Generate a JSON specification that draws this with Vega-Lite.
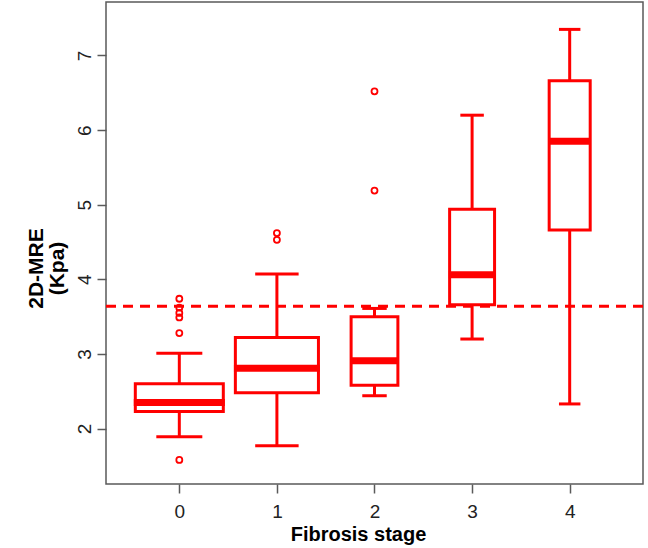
{
  "$schema": "https://vega.github.io/schema/vega-lite/v6.json",
  "autosize": {"type": "none"},
  "padding": {"left": 106, "top": 2, "right": 5, "bottom": 64},
  "width": 537,
  "height": 482,
  "background": "white",
  "config": {
    "view": {"stroke": "#5a5a5a", "strokeWidth": 1.5},
    "font": "Liberation Sans"
  },
  "datasets": {
    "boxes": [
      {"stage": 0, "n": 46, "lower": 1.89, "q1": 2.23, "median": 2.35, "q3": 2.6, "upper": 3.01},
      {"stage": 1, "n": 41, "lower": 1.77, "q1": 2.48, "median": 2.81, "q3": 3.22, "upper": 4.07},
      {"stage": 2, "n": 13, "lower": 2.44, "q1": 2.58, "median": 2.91, "q3": 3.5, "upper": 3.61},
      {"stage": 3, "n": 12, "lower": 3.2, "q1": 3.66, "median": 4.06, "q3": 4.94, "upper": 6.2},
      {"stage": 4, "n": 10, "lower": 2.33, "q1": 4.66, "median": 5.85, "q3": 6.66, "upper": 7.35}
    ],
    "outliers": [
      {"stage": 0, "value": 3.74},
      {"stage": 0, "value": 3.62},
      {"stage": 0, "value": 3.55},
      {"stage": 0, "value": 3.49},
      {"stage": 0, "value": 3.28},
      {"stage": 0, "value": 1.58},
      {"stage": 1, "value": 4.62},
      {"stage": 1, "value": 4.53},
      {"stage": 2, "value": 6.52},
      {"stage": 2, "value": 5.19}
    ],
    "cutoff": [{"value": 3.64}]
  },
  "layer": [
    {
      "data": {"name": "boxes"},
      "mark": {"type": "rule", "color": "#ff0000", "strokeWidth": 3},
      "encoding": {
        "x": {
          "field": "stage", "type": "quantitative",
          "scale": {"domain": [-0.7, 4.7], "nice": false, "zero": false},
          "axis": {
            "values": [0, 1, 2, 3, 4], "format": "d", "grid": false, "domain": false,
            "tickColor": "#5a5a5a", "tickWidth": 1.5, "tickSize": 9,
            "labelFontSize": 19, "labelColor": "#222222", "labelPadding": 9,
            "labelFont": "Liberation Sans",
            "title": "Fibrosis stage", "titleFont": "Liberation Sans", "titleFontSize": 20,
            "titleFontWeight": "bold", "titleColor": "#000000",
            "titleX": 252, "titleY": 56, "titleAlign": "center", "titleBaseline": "alphabetic", "titleAnchor": "middle"
          }
        },
        "y": {
          "field": "lower", "type": "quantitative",
          "scale": {"domain": [1.257, 7.717], "nice": false, "zero": false},
          "axis": {
            "values": [2, 3, 4, 5, 6, 7], "format": "d", "grid": false, "domain": false,
            "tickColor": "#5a5a5a", "tickWidth": 1.5, "tickSize": 9,
            "labelFontSize": 19, "labelColor": "#222222", "labelAngle": -90,
            "labelAlign": "center", "labelBaseline": "bottom", "labelPadding": 3,
            "labelFont": "Liberation Sans",
            "title": ["2D-MRE", "(Kpa)"], "titleFont": "Liberation Sans", "titleFontSize": 21,
            "titleFontWeight": "bold", "titleColor": "#000000", "titleLineHeight": 21,
            "titleAngle": -90, "titleX": -81, "titleY": 266, "titleAlign": "center", "titleBaseline": "top"
          }
        },
        "y2": {"field": "upper"}
      }
    },
    {
      "data": {"name": "boxes"},
      "mark": {"type": "bar", "fill": "#ffffff", "stroke": "#ff0000", "strokeWidth": 3},
      "encoding": {
        "x": {"field": "stage", "type": "quantitative"},
        "y": {"field": "q1", "type": "quantitative"},
        "y2": {"field": "q3"},
        "size": {"field": "n", "type": "quantitative", "scale": {"type": "sqrt", "domain": [0, 46], "range": [0, 88]}, "legend": null}
      }
    },
    {
      "data": {"name": "boxes"},
      "mark": {"type": "tick", "orient": "horizontal", "color": "#ff0000", "thickness": 7, "opacity": 1},
      "encoding": {
        "x": {"field": "stage", "type": "quantitative"},
        "y": {"field": "median", "type": "quantitative"},
        "size": {"field": "n", "type": "quantitative", "scale": {"type": "sqrt", "domain": [0, 46], "range": [0, 91]}, "legend": null}
      }
    },
    {
      "data": {"name": "boxes"},
      "mark": {"type": "tick", "orient": "horizontal", "color": "#ff0000", "thickness": 3, "opacity": 1},
      "encoding": {
        "x": {"field": "stage", "type": "quantitative"},
        "y": {"field": "lower", "type": "quantitative"},
        "size": {"field": "n", "type": "quantitative", "scale": {"type": "sqrt", "domain": [0, 46], "range": [0, 46]}, "legend": null}
      }
    },
    {
      "data": {"name": "boxes"},
      "mark": {"type": "tick", "orient": "horizontal", "color": "#ff0000", "thickness": 3, "opacity": 1},
      "encoding": {
        "x": {"field": "stage", "type": "quantitative"},
        "y": {"field": "upper", "type": "quantitative"},
        "size": {"field": "n", "type": "quantitative", "scale": {"type": "sqrt", "domain": [0, 46], "range": [0, 46]}, "legend": null}
      }
    },
    {
      "data": {"name": "outliers"},
      "mark": {"type": "point", "shape": "circle", "filled": false, "stroke": "#ff0000", "strokeWidth": 1.8, "size": 36, "opacity": 1},
      "encoding": {
        "x": {"field": "stage", "type": "quantitative"},
        "y": {"field": "value", "type": "quantitative"}
      }
    },
    {
      "data": {"name": "cutoff"},
      "mark": {"type": "rule", "color": "#ff0000", "strokeWidth": 3, "strokeDash": [10, 7]},
      "encoding": {
        "y": {"field": "value", "type": "quantitative"}
      }
    }
  ],
  "resolve": {"scale": {"size": "independent"}}
}
